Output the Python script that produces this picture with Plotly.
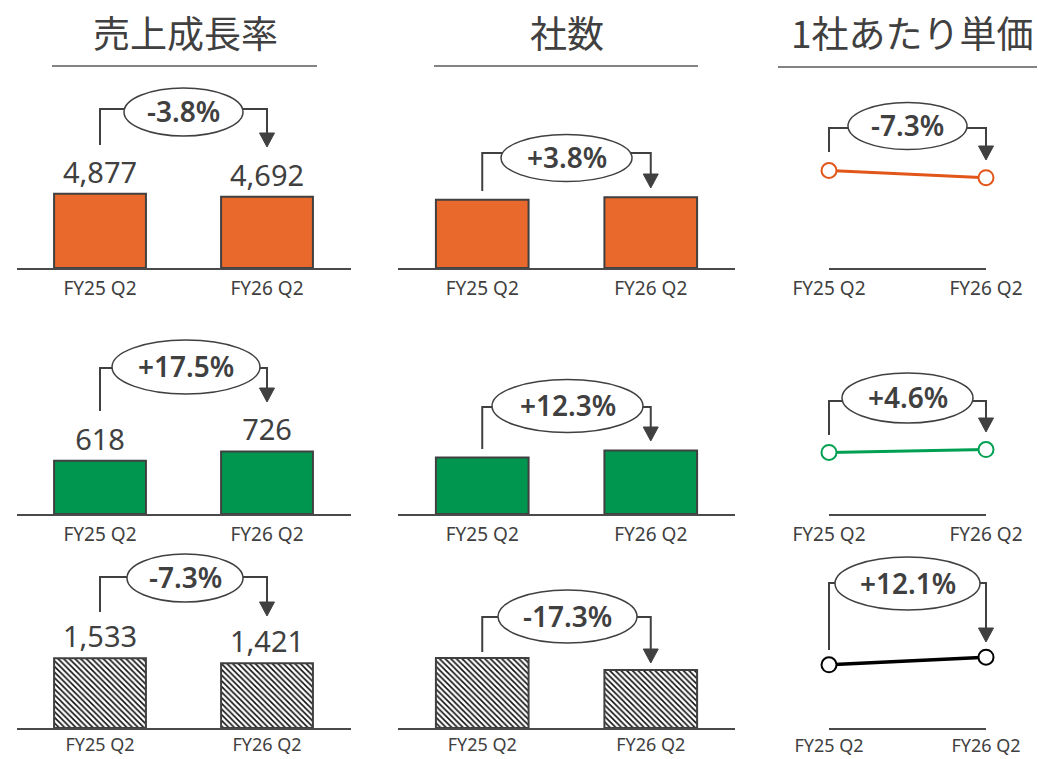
import plotly.graph_objects as go

# ---- data ----
periods = ["FY25 Q2", "FY26 Q2"]

# 売上成長率 (revenue) per segment row
revenue_top = [4877, 4692]
revenue_mid = [618, 726]
revenue_bot = [1533, 1421]

# 社数 (number of client companies)
count_top = [2120, 2200]
count_mid = [570, 640]
count_bot = [1550, 1282]

# 1社あたり単価 (revenue per company)
price_top = [2.30, 2.13]
price_mid = [1.08, 1.13]
price_bot = [0.99, 1.11]

# growth labels (column, row)
growth_labels = [
    ["-3.8%", "+17.5%", "-7.3%"],
    ["+3.8%", "+12.3%", "-17.3%"],
    ["-7.3%", "+4.6%", "+12.1%"],
]

column_titles = ["売上成長率", "社数", "1社あたり単価"]

# ---- styling ----
W, H = 1038, 759
TXT = "#404040"
ORANGE = "#E8692B"
ORANGE_LINE = "#E2561A"
GREEN = "#00964F"
GREEN_LINE = "#00A052"
LATIN = "Noto Sans, Open Sans, sans-serif"
CJK = "Noto Sans CJK JP, sans-serif"


def px(x):
    return x / W


def py(y):
    return 1 - y / H


# column x-domains in pixels, row baselines in pixels
col_dom = [(16.5, 350.5), (398.0, 735.0), (829.0, 986.0)]
row_base = [268, 514, 728]
row_ticklen = [2, 2, 0]
row_tickfont = [19, 19, 18]
dom_h = 190
# pixels per data unit for each (column, row)
scales = [
    [0.01520, 0.0862, 0.0455],
    [0.0322, 0.0992, 0.0452],
    [42.4, 57.0, 63.8],
]

fig = go.Figure()

series = [
    [revenue_top, revenue_mid, revenue_bot],
    [count_top, count_mid, count_bot],
    [price_top, price_mid, price_bot],
]
fills = [ORANGE, GREEN, "white"]
line_cols = [ORANGE_LINE, GREEN_LINE, "#000000"]

layout_axes = {}
idx = 0
for c in range(3):
    for r in range(3):
        idx += 1
        xa = "x" if idx == 1 else f"x{idx}"
        ya = "y" if idx == 1 else f"y{idx}"
        vals = series[c][r]
        if c < 2:
            marker = dict(color=fills[r], line=dict(color=TXT, width=2))
            if r == 2:
                marker["pattern"] = dict(shape="\\", fgcolor="#111111",
                                         bgcolor="white", size=4,
                                         solidity=0.4)
            fig.add_trace(go.Bar(
                x=periods, y=vals, xaxis=xa, yaxis=ya, width=0.55,
                marker=marker,
                text=[f"{v:,}" for v in vals] if c == 0 else None,
                textposition="outside",
                textfont=dict(family=LATIN, size=29, color=TXT),
                cliponaxis=False, showlegend=False,
                hoverinfo="x+y",
            ))
        else:
            fig.add_trace(go.Scatter(
                x=periods, y=vals, xaxis=xa, yaxis=ya,
                mode="lines+markers",
                line=dict(color=line_cols[r], width=3.5 if r == 2 else 3),
                marker=dict(symbol="circle", size=15, color="white",
                            line=dict(color=line_cols[r], width=2)),
                cliponaxis=False, showlegend=False,
            ))
        x0, x1 = col_dom[c]
        base = row_base[r]
        xkey = "xaxis" if idx == 1 else f"xaxis{idx}"
        ykey = "yaxis" if idx == 1 else f"yaxis{idx}"
        xrange = [-0.5, 1.5] if c < 2 else [0, 1]
        layout_axes[xkey] = dict(
            domain=[px(x0), px(x1)], anchor=ya, type="category",
            range=xrange, showgrid=False, zeroline=False, automargin=False,
            showline=True, linecolor="#4a4a4a", linewidth=2 if c == 2 else 1.5,
            ticks="outside", ticklen=row_ticklen[r],
            tickcolor="rgba(0,0,0,0)",
            tickfont=dict(family=LATIN, size=row_tickfont[r], color=TXT),
            fixedrange=True,
        )
        layout_axes[ykey] = dict(
            domain=[py(base), py(base - dom_h)], anchor=xa,
            range=[0, dom_h / scales[c][r]], visible=False,
            automargin=False, fixedrange=True,
        )

# ---- growth brackets: (line_y, start_y, tip_y, ellipse cx, cy, rx, ry) ----
brackets = [
    [(109, 145, 147, 183.5, 112, 59.5, 24),
     (368, 411, 402, 186, 367, 74, 27),
     (577, 612, 616, 185, 578, 58, 24)],
    [(153, 191, 188, 566.5, 158, 65.5, 23.5),
     (407, 449, 441, 567.5, 406, 75.5, 26.5),
     (617, 652, 663, 567.5, 616.5, 69.5, 26.5)],
    [(128, 152, 160, 907.5, 126, 59.5, 23.5),
     (401, 435, 432, 907.5, 398, 65.5, 25),
     (583, 650, 642, 907.5, 583.5, 72.5, 26.5)],
]

shapes = []
annotations = []
for c in range(3):
    x0, x1 = col_dom[c]
    if c < 2:
        step = (x1 - x0) / 2
        xl, xr = x0 + step / 2, x0 + step * 1.5
    else:
        xl, xr = x0, x1
    for r in range(3):
        ly, sy, ty, cx, cy, rx, ry = brackets[c][r]
        head = 14
        hw = 7.5
        path_l = f"M {px(xl)},{py(sy)} L {px(xl)},{py(ly)} L {px(cx)},{py(ly)}"
        path_r = (f"M {px(cx)},{py(ly)} L {px(xr)},{py(ly)} "
                  f"L {px(xr)},{py(ty - head + 1)}")
        for p in (path_l, path_r):
            shapes.append(dict(type="path", path=p, xref="paper", yref="paper",
                               line=dict(color=TXT, width=2)))
        tri = (f"M {px(xr - hw)},{py(ty - head)} L {px(xr + hw)},{py(ty - head)} "
               f"L {px(xr)},{py(ty)} Z")
        shapes.append(dict(type="path", path=tri, xref="paper", yref="paper",
                           fillcolor=TXT, line=dict(color=TXT, width=1)))
        shapes.append(dict(type="circle", xref="paper", yref="paper",
                           x0=px(cx - rx), x1=px(cx + rx),
                           y0=py(cy + ry), y1=py(cy - ry),
                           fillcolor="white", line=dict(color=TXT, width=1.5)))
        annotations.append(dict(
            text=growth_labels[c][r], x=px(cx), y=py(cy - 1),
            xref="paper", yref="paper", showarrow=False,
            xanchor="center", yanchor="middle",
            font=dict(family=LATIN, size=28, color=TXT, weight=600),
        ))

# ---- column headers with rules ----
title_x = [185, 567, 912]
rule = [(52, 317, 66), (434, 698, 66), (778, 1037, 67)]
for c in range(3):
    annotations.append(dict(
        text=column_titles[c], x=px(title_x[c]), y=py(32),
        xref="paper", yref="paper", showarrow=False,
        xanchor="center", yanchor="middle",
        font=dict(family=CJK, size=37, color=TXT),
    ))
    a, b, yy = rule[c]
    shapes.append(dict(type="line", xref="paper", yref="paper",
                       x0=px(a), x1=px(b), y0=py(yy), y1=py(yy),
                       line=dict(color="#5a5a5a", width=1.5)))

fig.update_layout(
    template="none",
    width=W, height=H,
    margin=dict(l=0, r=0, t=0, b=0, pad=0),
    paper_bgcolor="white", plot_bgcolor="white",
    shapes=shapes, annotations=annotations,
    bargap=0.45,
    **layout_axes,
)

fig.write_html("out.html")
